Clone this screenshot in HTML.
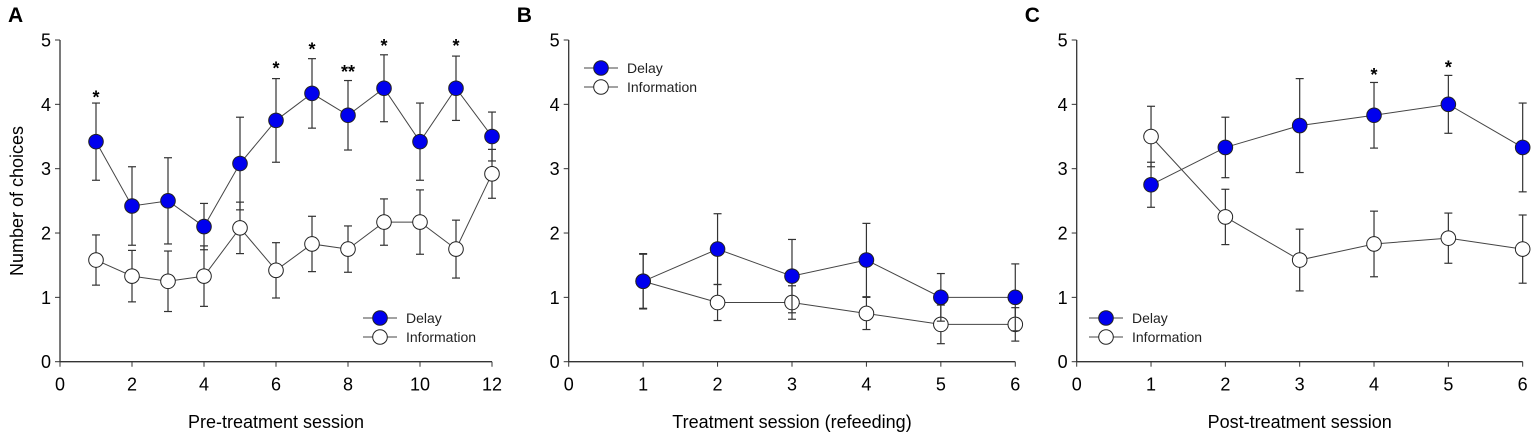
<!DOCTYPE html>
<html><head><meta charset="utf-8"><style>
html,body{margin:0;padding:0;background:#fff;}
svg{display:block;font-family:"Liberation Sans",Arial,sans-serif;}
</style></head><body>
<svg id="s" width="1535" height="437" xmlns="http://www.w3.org/2000/svg"></svg>
<script>
const s=document.getElementById('s');let h='';
const Y0=361.7,YU=64.34;
function y(v){return Y0-v*YU;}
function panel(x0,unit,nt,step,letter,title,dl,il,leg,ylab,stars){
  const X=v=>x0+v*unit;
  h+=`<text x="${x0-52}" y="22" font-size="21" font-weight="bold">${letter}</text>`;
  h+=`<line x1="${x0}" y1="${y(5)}" x2="${x0}" y2="${Y0}" stroke="#333" stroke-width="1.3"/>`;
  h+=`<line x1="${x0}" y1="${Y0}" x2="${X(nt)}" y2="${Y0}" stroke="#333" stroke-width="1.3"/>`;
  for(let i=0;i<=5;i++){h+=`<line x1="${x0-5}" y1="${y(i)}" x2="${x0}" y2="${y(i)}" stroke="#333"/>`;
    h+=`<text x="${x0-9}" y="${y(i)+6.5}" font-size="18" text-anchor="end">${i}</text>`;}
  for(let i=0;i<=nt;i+=step){h+=`<line x1="${X(i)}" y1="${Y0}" x2="${X(i)}" y2="${Y0+5}" stroke="#333"/>`;
    h+=`<text x="${X(i)}" y="${Y0+29}" font-size="18" text-anchor="middle">${i}</text>`;}
  h+=`<text x="${(x0+X(nt))/2}" y="428" font-size="18" text-anchor="middle">${title}</text>`;
  function series(d,fill){
    let p=d.map((a,i)=>`${X(i+1)},${y(a[0])}`).join(' ');
    h+=`<polyline points="${p}" fill="none" stroke="#444" stroke-width="1"/>`;
    d.forEach((a,i)=>{const cx=X(i+1),e=a[1];
      h+=`<line x1="${cx}" y1="${y(a[0]+e)}" x2="${cx}" y2="${y(a[0]-e)}" stroke="#333" stroke-width="1.2"/>`;
      h+=`<line x1="${cx-4}" y1="${y(a[0]+e)}" x2="${cx+4}" y2="${y(a[0]+e)}" stroke="#333" stroke-width="1.2"/>`;
      h+=`<line x1="${cx-4}" y1="${y(a[0]-e)}" x2="${cx+4}" y2="${y(a[0]-e)}" stroke="#333" stroke-width="1.2"/>`;});
    d.forEach((a,i)=>{h+=`<circle cx="${X(i+1)}" cy="${y(a[0])}" r="7.3" fill="${fill}" stroke="#222" stroke-width="1"/>`;});
  }
  series(il,'#fff');series(dl,'#0000ee');
  (stars||[]).forEach(t=>{h+=`<text x="${X(t[0])}" y="${y(t[1])+9}" font-size="18" text-anchor="middle" font-weight="bold">${t[2]}</text>`;});
  const [lx,ly]=leg;
  [['#0000ee','Delay'],['#fff','Information']].forEach((c,k)=>{const yy=ly+k*19;
    h+=`<line x1="${lx-17}" y1="${yy}" x2="${lx+17}" y2="${yy}" stroke="#444"/>`;
    h+=`<circle cx="${lx}" cy="${yy}" r="7.3" fill="${c[0]}" stroke="#222"/>`;
    h+=`<text x="${lx+26}" y="${yy+5}" font-size="14" fill="#222">${c[1]}</text>`;});
}
panel(60,36,12,2,'A','Pre-treatment session',
 [[3.42,.6],[2.42,.61],[2.5,.67],[2.1,.36],[3.08,.72],[3.75,.65],[4.17,.54],[3.83,.54],[4.25,.52],[3.42,.6],[4.25,.5],[3.5,.38]],
 [[1.58,.39],[1.33,.4],[1.25,.47],[1.33,.47],[2.08,.4],[1.42,.43],[1.83,.43],[1.75,.36],[2.17,.36],[2.17,.5],[1.75,.45],[2.92,.38]],
 [380,318],1,[[1,4.15,'*'],[6,4.6,'*'],[7,4.9,'*'],[8,4.55,'**'],[9,4.95,'*'],[11,4.95,'*']]);
panel(568.7,74.43,6,1,'B','Treatment session (refeeding)',
 [[1.25,.43],[1.75,.55],[1.33,.57],[1.58,.57],[1.0,.37],[1.0,.52]],
 [[1.25,.42],[.92,.28],[.92,.26],[.75,.25],[.58,.3],[.58,.26]],
 [601,68],0,[]);
panel(1076.7,74.33,6,1,'C','Post-treatment session',
 [[2.75,.35],[3.33,.47],[3.67,.73],[3.83,.51],[4.0,.45],[3.33,.69]],
 [[3.5,.47],[2.25,.43],[1.58,.48],[1.83,.51],[1.92,.39],[1.75,.53]],
 [1106,318],0,[[4,4.5,'*'],[5,4.62,'*']]);
h+=`<text transform="translate(23,201) rotate(-90)" font-size="18" text-anchor="middle">Number of choices</text>`;
s.innerHTML=h;
</script>
</body></html>
